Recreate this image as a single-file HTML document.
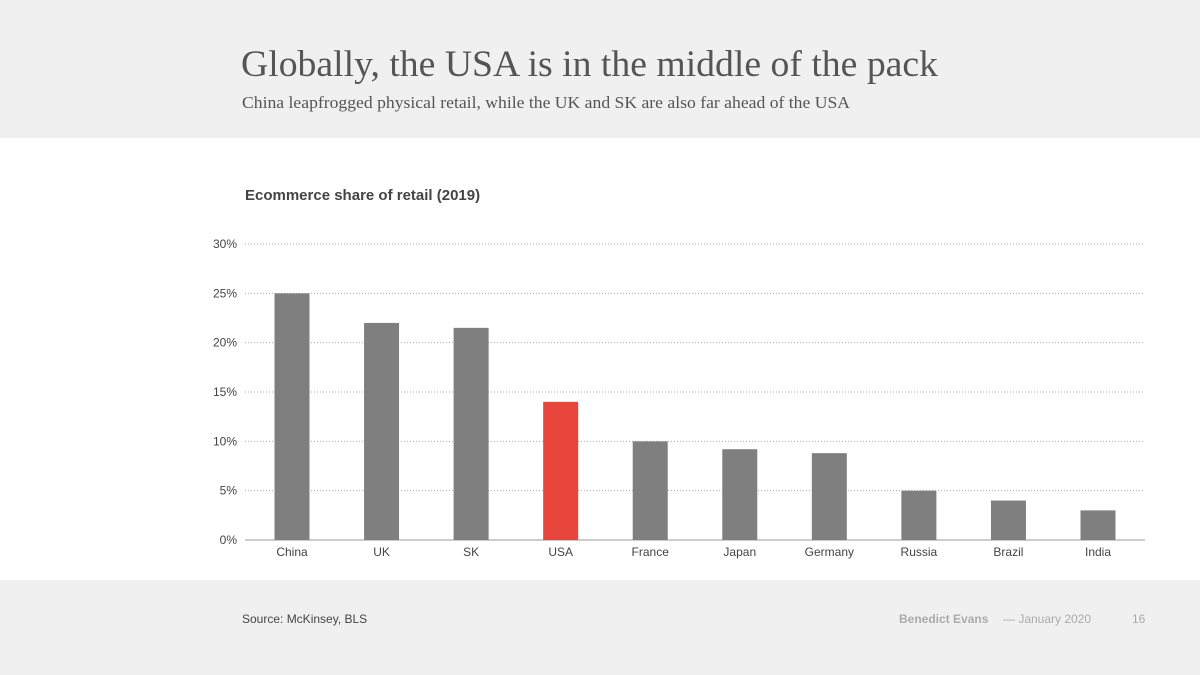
<!DOCTYPE html>
<html><head><meta charset="utf-8"><style>
html,body{margin:0;padding:0;background:#fff}
svg{display:block}
</style></head><body>
<svg width="1200" height="675" viewBox="0 0 1200 675" xmlns="http://www.w3.org/2000/svg">
<rect x="0" y="0" width="1200" height="138" fill="#f0f0f0"/>
<rect x="0" y="580" width="1200" height="95" fill="#f0f0f0"/>
<text x="241" y="76" font-family="Liberation Serif, serif" font-size="37" fill="#555" textLength="697" lengthAdjust="spacingAndGlyphs">Globally, the USA is in the middle of the pack</text>
<text x="242" y="108" font-family="Liberation Serif, serif" font-size="17" fill="#555" textLength="608" lengthAdjust="spacingAndGlyphs">China leapfrogged physical retail, while the UK and SK are also far ahead of the USA</text>
<text x="245" y="200" font-family="Liberation Sans, sans-serif" font-size="15" font-weight="bold" fill="#444">Ecommerce share of retail (2019)</text>
<g id="grid"></g>
<g id="bars"></g>
<g id="labels"></g>
<text x="242" y="623" font-family="Liberation Sans, sans-serif" font-size="12" fill="#444">Source: McKinsey, BLS</text>
<text x="899" y="623" font-family="Liberation Sans, sans-serif" font-size="12" font-weight="bold" fill="#aaa">Benedict Evans</text>
<text x="1003" y="623" font-family="Liberation Sans, sans-serif" font-size="12" fill="#aaa">— January 2020</text>
<text x="1132" y="623" font-family="Liberation Sans, sans-serif" font-size="12" fill="#aaa">16</text>
</svg>
<script>
const categories = ["China","UK","SK","USA","France","Japan","Germany","Russia","Brazil","India"];
const values = [25, 22, 21.5, 14, 10, 9.2, 8.8, 5, 4, 3];
const yTicks = [0, 5, 10, 15, 20, 25, 30];
const highlight = "USA";

const NS = "http://www.w3.org/2000/svg";
const x0 = 245, x1 = 1145, yBase = 540, yTop = 244, yMax = 30;
const y = v => yBase - (v / yMax) * (yBase - yTop);
const bx0 = 292, bx1 = 1098;
const xc = i => bx0 + (bx1 - bx0) * i / (categories.length - 1);
function mk(tag, attrs, parent){const e=document.createElementNS(NS,tag);for(const k in attrs)e.setAttribute(k,attrs[k]);parent.appendChild(e);return e;}
const grid = document.getElementById('grid');
yTicks.forEach(t => {
  const l = mk('line', {x1:x0, x2:x1, y1:y(t), y2:y(t), stroke: t===0?'#999':'#aaa', 'stroke-width':1, 'stroke-dasharray': t===0?'':'1,2'}, grid);
  
  
  const tx = mk('text', {x:237, y:y(t)+4, 'text-anchor':'end', 'font-family':'Liberation Sans, sans-serif', 'font-size':12, fill:'#444'}, grid);
  tx.textContent = t + '%';
  
  
});
const bars = document.getElementById('bars'), labels = document.getElementById('labels');
const bw = 35;
categories.forEach((c, i) => {
  const r = mk('rect', {x:xc(i)-bw/2, y:y(values[i]), width:bw, height:yBase-y(values[i]), fill: c===highlight?'#e8453c':'#7f7f7f'}, bars);
  
  
  const t = mk('text', {x:xc(i), y:556, 'text-anchor':'middle', 'font-family':'Liberation Sans, sans-serif', 'font-size':12, fill:'#444'}, labels);
  t.textContent = c;
  
  
});
</script>
</body></html>
